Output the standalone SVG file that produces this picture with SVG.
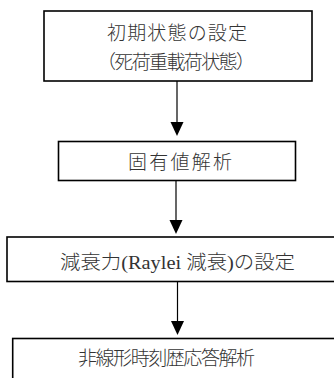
<svg xmlns="http://www.w3.org/2000/svg" width="334" height="378" viewBox="0 0 334 378">
<style>
.box{fill:#fff;stroke:#000;stroke-width:1.6}
.t{font-family:"Liberation Serif","Noto Sans CJK JP",serif;font-size:19px;font-weight:300;fill:#333;text-anchor:middle;dominant-baseline:central}
.c{stroke:#000;stroke-width:1.2;fill:none}
.h{fill:#000}
</style>
<rect width="334" height="378" fill="#fff"/>
<g id="n1">
<rect class="box" x="44" y="11" width="268" height="70"/>
<text class="t" x="177" y="33" textLength="140" lengthAdjust="spacing">初期状態の設定</text>
<text class="t" x="176" y="62" textLength="158" lengthAdjust="spacing">（死荷重載荷状態）</text>
</g>
<g id="n2">
<rect class="box" x="58.5" y="141.5" width="237" height="39"/>
<text class="t" x="180" y="162" textLength="104" lengthAdjust="spacing">固有値解析</text>
</g>
<g id="n3">
<rect class="box" x="7" y="237" width="345" height="44.5"/>
<text class="t" x="177.5" y="262" textLength="235" lengthAdjust="spacingAndGlyphs">減衰力(Raylei 減衰)の設定</text>
</g>
<g id="n4">
<rect class="box" x="12.7" y="338.5" width="340" height="60"/>
<text class="t" x="166.5" y="358" textLength="177" lengthAdjust="spacing">非線形時刻歴応答解析</text>
</g>
<g id="connectors">
<line class="c" x1="177" y1="81" x2="177" y2="123"/>
<polygon class="h" points="170.5,122 183.5,122 177,136"/>
<line class="c" x1="176" y1="180.5" x2="176" y2="221"/>
<polygon class="h" points="169.5,220 182.5,220 176,234"/>
<line class="c" x1="177.5" y1="281.5" x2="177.5" y2="322"/>
<polygon class="h" points="171,321 184,321 177.5,335"/>
</g>
</svg>
